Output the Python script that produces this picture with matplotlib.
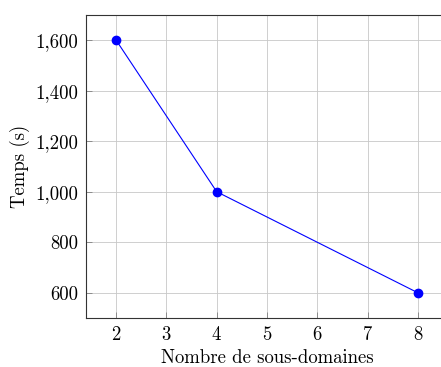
import matplotlib
matplotlib.use("Agg")
import matplotlib.pyplot as plt
from matplotlib.ticker import FuncFormatter

plt.rcParams['font.family'] = 'serif'
plt.rcParams['font.serif'] = ['cmr10', 'DejaVu Serif']
plt.rcParams['axes.formatter.use_mathtext'] = True

# data
sous_domaines = [2, 4, 8]
temps = [1600, 1000, 600]
x_ticks = [2, 3, 4, 5, 6, 7, 8]
y_ticks = [600, 800, 1000, 1200, 1400, 1600]

fig = plt.figure(figsize=(4.41, 3.67), dpi=100)
ax = fig.add_axes([86/441, 49/367, 362/441, 303/367])

ax.plot(sous_domaines, temps, color="blue", lw=0.8, marker="o", ms=6, zorder=3)

ax.set_xlim(1.4, 8.6)
ax.set_ylim(500, 1700)
ax.set_xticks(x_ticks)
ax.set_yticks(y_ticks)
ax.yaxis.set_major_formatter(FuncFormatter(lambda v, p: "{:,}".format(int(v))))
ax.grid(True, color="#c8c8c8", lw=0.6)
ax.set_axisbelow(True)
ax.tick_params(direction="in", length=4, width=0.6, color="#808080", labelsize=13.5, pad=5.5)
for s in ax.spines.values():
    s.set_linewidth(0.8)
    s.set_color("#333333")

ax.set_xlabel("Nombre de sous-domaines", fontsize=13.5, labelpad=4)
ax.set_ylabel("Temps (s)", fontsize=13.5, labelpad=4)

fig.savefig("out.png", dpi=100)
